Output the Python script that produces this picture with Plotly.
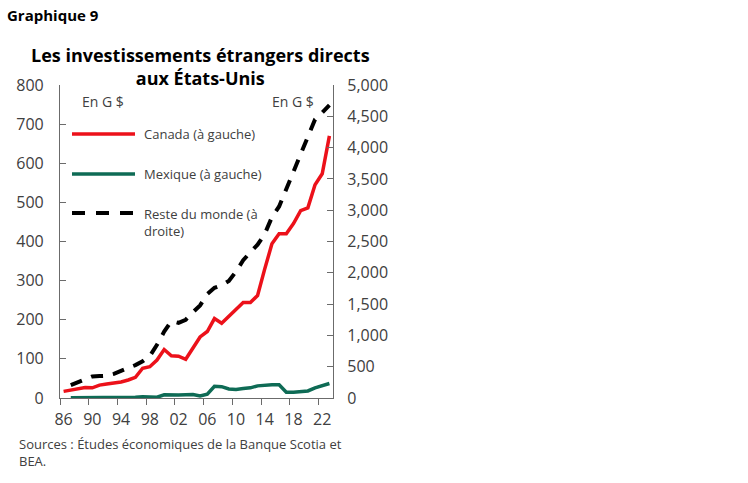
import plotly.graph_objects as go

# Données (G $)
years = list(range(1986, 2024))
canada = [17, 21, 24, 27, 26, 33, 36, 38, 41, 46, 53, 76, 80, 97, 124,
          108, 107, 99, 128, 156, 170, 203, 191, 208, 225, 244, 244, 262,
          330, 394, 420, 420, 446, 479, 486, 545, 573, 670]
mexique = [None, 0.5, 0.6, 0.8, 0.6, 0.8, 1.2, 1.2, 2, 1.8, 1.8, 3.5, 2.5,
           2, 8, 7, 7.5, 8.5, 9, 5, 10, 30, 29, 23, 22, 24, 26, 31, 33, 34,
           34, 15, 15, 17, 18, 26, 31, 37]
reste_monde = [None, 205, 250, 290, 345, 350, 355, 385, 440, 480, 525, 585,
               670, 850, 1060, 1230, 1200, 1250, 1370, 1480, 1660, 1760, 1800,
               1870, 2020, 2200, 2330, 2450, 2620, 2890, 3060, 3330, 3620,
               3890, 4180, 4450, 4560, 4680]

tick_years = list(range(1986, 2023, 4))
tick_labels = [str(y)[2:] for y in tick_years]
boundaries = [y - 0.5 for y in tick_years]

RED = "#EC111A"
GREEN = "#0E6B55"
AXIS = "#6b6b6b"
TXT = "#404040"
FONT = "Open Sans"

fig = go.Figure()

fig.add_trace(go.Scatter(
    x=years, y=reste_monde, yaxis="y2", mode="lines",
    line=dict(color="black", width=4, dash="12px,10px"),
    name="Reste du monde (à droite)", showlegend=False,
))
fig.add_trace(go.Scatter(
    x=years, y=mexique, mode="lines",
    line=dict(color=GREEN, width=3.5),
    name="Mexique (à gauche)", showlegend=False,
))
fig.add_trace(go.Scatter(
    x=years, y=canada, mode="lines",
    line=dict(color=RED, width=3.5),
    name="Canada (à gauche)", showlegend=False,
))

# Petite fonction pour passer des pixels aux coordonnées "paper"
L, R, T, B = 60, 333, 85, 398


def px(x):
    return (x - L) / (R - L)


def py(y):
    return (B - y) / (B - T)


shapes = [
    dict(type="line", xref="paper", yref="paper", x0=px(72), x1=px(135),
         y0=py(134), y1=py(134), line=dict(color=RED, width=3.5)),
    dict(type="line", xref="paper", yref="paper", x0=px(72), x1=px(135),
         y0=py(174), y1=py(174), line=dict(color=GREEN, width=3.5)),
    dict(type="line", xref="paper", yref="paper", x0=px(72), x1=px(135),
         y0=py(213), y1=py(213), line=dict(color="black", width=4, dash="13px,11px")),
]

annotations = [
    dict(text="<b>Graphique 9</b>", x=px(5), y=py(15), xanchor="left", yanchor="middle",
         font=dict(size=15, color="black", family=FONT)),
    dict(text="<b>Les investissements étrangers directs<br>aux États-Unis</b>",
         x=px(200), y=py(66), xanchor="center", yanchor="middle",
         font=dict(size=18, color="black", family=FONT)),
    dict(text="En G $", x=px(80), y=py(101), xanchor="left", yanchor="middle",
         font=dict(size=14, color=TXT, family=FONT)),
    dict(text="En G $", x=px(316), y=py(101), xanchor="right", yanchor="middle",
         font=dict(size=14, color=TXT, family=FONT)),
    dict(text="Canada (à gauche)", x=px(142), y=py(134), xanchor="left", yanchor="middle",
         font=dict(size=13, color=TXT, family=FONT)),
    dict(text="Mexique (à gauche)", x=px(142), y=py(174), xanchor="left", yanchor="middle",
         font=dict(size=13, color=TXT, family=FONT)),
    dict(text="Reste du monde (à<br>droite)", x=px(142), y=py(203), xanchor="left", yanchor="top",
         align="left", font=dict(size=13, color=TXT, family=FONT)),
    dict(text="Sources : Études économiques de la Banque Scotia et<br>BEA.",
         x=px(17), y=py(433), xanchor="left", yanchor="top", align="left",
         font=dict(size=13, color=TXT, family=FONT)),
]
for a in annotations:
    a.update(xref="paper", yref="paper", showarrow=False)

fig.update_layout(
    width=748, height=483,
    paper_bgcolor="white", plot_bgcolor="white",
    margin=dict(l=L, r=748 - R, t=T, b=483 - B, pad=0),
    showlegend=False,
    font=dict(family=FONT, color=TXT),
    xaxis=dict(
        range=[1985.5, 2023.5],
        tickmode="array", tickvals=tick_years, ticktext=tick_labels,
        ticks="", showgrid=False, zeroline=False,
        showline=True, linecolor=AXIS, linewidth=1.2,
        tickfont=dict(size=16, color=TXT, family=FONT),
        ticklabelstandoff=7,
        minor=dict(tickmode="array", tickvals=boundaries, ticks="outside",
                   ticklen=6, tickcolor=AXIS, tickwidth=1.2, showgrid=False),
    ),
    yaxis=dict(
        range=[0, 800], dtick=100, ticks="inside", ticklen=6,
        tickcolor=AXIS, tickwidth=1.2,
        showgrid=False, zeroline=False,
        showline=True, linecolor=AXIS, linewidth=1.2,
        tickfont=dict(size=16, color=TXT, family=FONT),
        ticklabelstandoff=12,
    ),
    yaxis2=dict(
        range=[0, 5000], dtick=500, overlaying="y", side="right",
        ticks="inside", ticklen=6, tickcolor=AXIS, tickwidth=1.2,
        showgrid=False, zeroline=False,
        showline=True, linecolor=AXIS, linewidth=1.2,
        tickformat=",d",
        tickfont=dict(size=16, color=TXT, family=FONT),
        ticklabelstandoff=10,
    ),
    shapes=shapes,
    annotations=annotations,
)

fig.write_html("out.html", config={"displayModeBar": False},
               post_script="document.body.style.margin='0';")
